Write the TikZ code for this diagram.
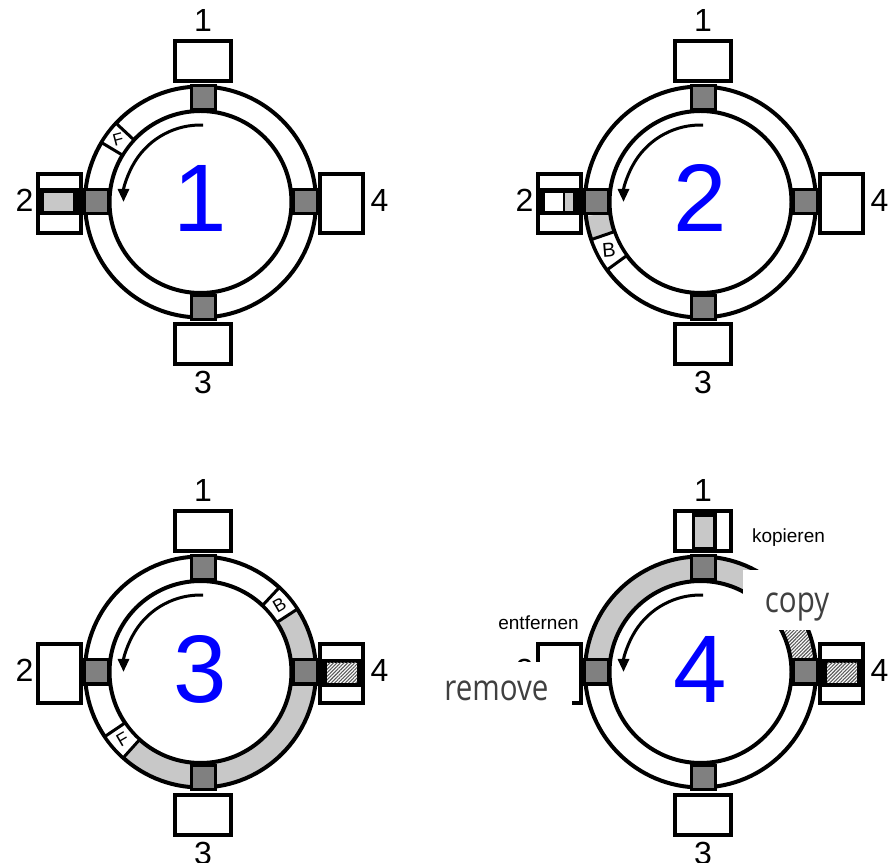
\documentclass[tikz,border=0pt]{standalone}
\usepackage{fontspec}
\setmainfont{Liberation Sans}
\newfontfamily\wordfont[FakeStretch=0.82]{Open Sans}
\usetikzlibrary{arrows.meta,patterns.meta}
\definecolor{palegray}{RGB}{200,200,200}
\definecolor{tapgray}{RGB}{128,128,128}
\definecolor{hatch}{RGB}{90,90,90}
\definecolor{ink}{RGB}{64,64,64}
\definecolor{bigblue}{RGB}{0,0,255}
% piece of the ring between two angles
\newcommand{\arcband}[3]{\path[#1] (#2:91) arc[start angle=#2,end angle=#3,radius=91]
  -- (#3:115.5) arc[start angle=#3,end angle=#2,radius=115.5] -- cycle;}
\tikzset{
  >={Triangle[length=13pt,width=11pt]},
  ring/.style={draw=black,line width=4pt},
  turn/.style={->,line width=3pt},
  st/.style={draw=black,fill=white,line width=4pt,inner sep=0pt},
  tap/.style={draw=black,fill=tapgray,line width=3pt,inner sep=0pt,minimum size=24pt},
  lbl/.style={font=\fontsize{32}{32}\selectfont,anchor=base,inner sep=0pt},
  big/.style={font=\fontsize{96}{96}\selectfont,text=bigblue,anchor=base,inner sep=0pt},
  pkt/.style={draw=black,fill=white,line width=3pt},
  pktlbl/.style={font=\fontsize{#1}{#1}\selectfont,inner sep=0pt},
  pktlbl/.default=17,
  word/.style={font=\fontsize{19}{19}\selectfont,anchor=base,inner sep=0pt},
  eng/.style={font=\wordfont\fontsize{36}{36}\selectfont,text=ink,anchor=base,inner sep=0pt},
  hatched/.style={pattern={Lines[angle=45,distance=2.5pt,line width=1.1pt]},pattern color=hatch},
  % one ring with its four stations
  pics/station/.style={code={
    \draw[ring] (0,0) circle[radius=115.5];
    \draw[ring] (0,0) circle[radius=91];
    \draw[turn] (88:77) arc[start angle=88,end angle=180,radius=77];
    \node[big] (-num) at (0,-30) {#1};
    \node[st,minimum width=56pt,minimum height=40pt] (-n) at (2.5,141) {};
    \node[st,minimum width=56pt,minimum height=40pt] (-s) at (2.5,-142.5) {};
    \node[st,minimum width=42.5pt,minimum height=59pt] (-w) at (-141,-1.5) {};
    \node[st,minimum width=42.5pt,minimum height=59pt] (-e) at (141,-1.5) {};
    \node[tap] (-tn) at (2.5,104) {};
    \node[tap] (-ts) at (2.5,-105.5) {};
    \node[tap] (-tw) at (-104.5,0) {};
    \node[tap] (-te) at (104.5,0) {};
    \node[lbl] (-ln) at (2.5,170) {1};
    \node[lbl] (-ls) at (2.5,-192) {3};
    \node[lbl] (-lw) at (-176,-10) {2};
    \node[lbl] (-le) at (179,-10) {4};
  }},
}

\begin{document}
\begin{tikzpicture}[x=1pt,y=1pt]
  \useasboundingbox (0,0) rectangle (888,862);

  % 1
  \begin{scope}[shift={(200.5,660)}]
    \pic (A) {station=1};
    \fill[black] (-164.5,14) rectangle (-117.5,-13);
    \fill[palegray] (-156.5,9) rectangle (-127.5,-9);
    \arcband{pkt}{137}{149}
    \node[pktlbl,rotate=15] (A-f) at (143:103.25) {F};
  \end{scope}

  % 2
  \begin{scope}[shift={(700.5,660)}]
    \arcband{fill=palegray}{187}{199}
    \pic (B) {station=2};
    \fill[black] (-164.5,14) rectangle (-117.5,-13);
    \fill[white] (-155.5,9) rectangle (-137.5,-9);
    \fill[palegray] (-135.5,9) rectangle (-127.5,-9);
    \arcband{pkt}{199}{216}
    \node[pktlbl=20,rotate=5] (B-b) at (207.5:103.25) {B};
  \end{scope}

  % 3
  \begin{scope}[shift={(200.5,190)}]
    \arcband{fill=palegray}{228}{393}
    \pic (C) {station=3};
    \fill[black] (117.5,13) rectangle (164.5,-15);
    \fill[white] (126.5,9) rectangle (156.5,-11);
    \fill[hatched] (126.5,9) rectangle (156.5,-11);
    \arcband{pkt}{33}{47}
    \node[pktlbl=18,rotate=30] (C-b) at (40:103.25) {B};
    \arcband{pkt}{214}{228}
    \node[pktlbl=18,rotate=30] (C-f) at (221:103.25) {F};
  \end{scope}

  % 4
  \begin{scope}[shift={(700.5,190)}]
    \arcband{fill=palegray}{50}{173}
    \arcband{hatched}{7}{40}
    \pic (D) {station=4};
    \fill[black] (-8.5,159) rectangle (16.5,122);
    \fill[palegray] (-5.5,155) rectangle (12.5,125);
    \fill[black] (117.5,13) rectangle (164.5,-15);
    \fill[white] (126.5,9) rectangle (156.5,-11);
    \fill[hatched] (126.5,9) rectangle (156.5,-11);
    \fill[white] (42.5,102) rectangle (134.5,42);
    \fill[white] (-262,10) rectangle (-128.5,-40);
    \node[word] (D-kop) at (88,129) {kopieren};
    \node[word] (D-ent) at (-162,42) {entfernen};
    \node[eng] (D-copy) at (96.5,59) {copy};
    \node[eng] (D-rem) at (-204,-28) {remove};
  \end{scope}
\end{tikzpicture}
\end{document}
